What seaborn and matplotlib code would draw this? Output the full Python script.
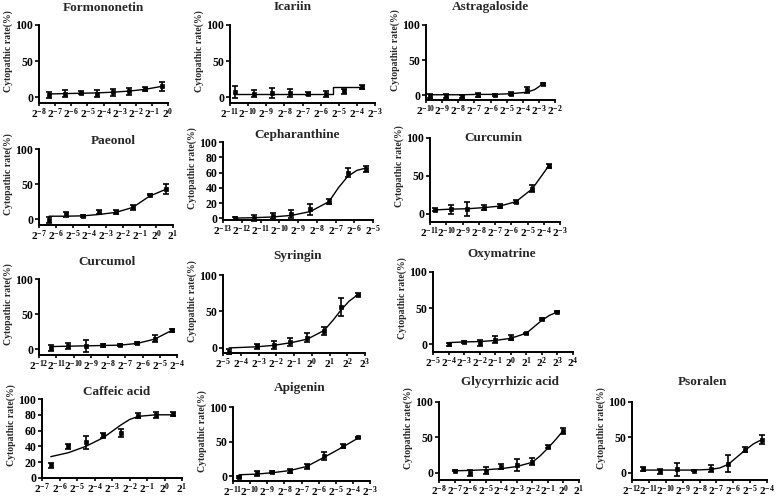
import numpy as np
import pandas as pd
import matplotlib
matplotlib.use("Agg")
import matplotlib.pyplot as plt
import seaborn as sns
from matplotlib.ticker import FixedLocator, FuncFormatter, NullLocator

# ---------------- data (log2 of concentration, cytopathic rate %) ----------------
formononetin_x = [-7.4, -6.4, -5.4, -4.4, -3.4, -2.4, -1.4, -0.4]
formononetin_y = [3, 5, 6, 5, 7, 8, 11, 15]
formononetin_err = [4, 5, 2, 5, 5, 5, 3, 6]
formononetin_fit_x = [-7.4, -6.4, -5.4, -4.4, -3.4, -2.4, -1.4, -0.4]
formononetin_fit_y = [4.5, 5, 5.5, 6, 7, 8.5, 11, 15]

icariin_x = [-10.7, -9.7, -8.7, -7.7, -6.7, -5.7, -4.7, -3.7]
icariin_y = [7, 5, 6, 6, 5, 4, 8, 14]
icariin_err = [8, 5, 7, 5, 2, 4, 3, 3]
icariin_fit_x = [-10.7, -5.3, -5.3, -3.7]
icariin_fit_y = [5, 5, 14, 14]

astragaloside_x = [-9.75, -8.75, -7.75, -6.75, -5.75, -4.75, -3.75, -2.75]
astragaloside_y = [-1, -1, -2, 0, 0, 2, 7, 16]
astragaloside_err = [3, 3, 2, 3, 1, 2, 4, 1]
astragaloside_fit_x = [-9.75, -8.75, -7.75, -6.75, -5.75, -4.75, -3.75, -3.25, -2.75]
astragaloside_fit_y = [0.5, 0.5, 0.5, 1, 1, 2, 4, 8, 16]

paeonol_x = [-6.4, -5.4, -4.4, -3.4, -2.4, -1.4, -0.4, 0.6]
paeonol_y = [-1, 7, 5, 10, 10, 17, 35, 43]
paeonol_err = [4, 3, 1, 3, 3, 3, 1, 7]
paeonol_fit_x = [-6.4, -5.4, -4.4, -3.4, -2.4, -1.4, -0.4, 0.6]
paeonol_fit_y = [4.5, 4.5, 5, 7, 10, 17, 33, 43]

cepharanthine_x = [-12.35, -11.35, -10.35, -9.35, -8.35, -7.35, -6.35, -5.35]
cepharanthine_y = [0, 1, 3, 6, 12, 22, 60, 65]
cepharanthine_err = [2, 4, 4, 5, 7, 3, 6, 4]
cepharanthine_fit_x = [-12.35, -11.35, -10.35, -9.35, -8.35, -7.35, -6.85, -6.35, -5.85, -5.35]
cepharanthine_fit_y = [0.5, 1, 2, 4, 9, 22, 40, 55, 63, 66]

curcumin_x = [-10.7, -9.7, -8.7, -7.7, -6.7, -5.7, -4.7, -3.7]
curcumin_y = [5, 6, 6, 8, 10, 16, 33, 63]
curcumin_err = [2, 6, 9, 3, 3, 2, 5, 3]
curcumin_fit_x = [-10.7, -9.7, -8.7, -7.7, -6.7, -5.7, -4.7, -3.7]
curcumin_fit_y = [5, 6, 6.5, 8, 10, 16, 33, 63]

curcumol_x = [-11.3, -10.3, -9.3, -8.3, -7.3, -6.3, -5.3, -4.3]
curcumol_y = [2, 5, 5, 6, 6, 9, 15, 27]
curcumol_err = [4, 4, 9, 2, 1, 2, 5, 2]
curcumol_fit_x = [-11.3, -10.3, -9.3, -8.3, -7.3, -6.3, -5.3, -4.3]
curcumol_fit_y = [4, 4.5, 5, 5.5, 6, 8.5, 14.5, 27]

syringin_x = [-4.65, -3.1, -2.15, -1.2, -0.25, 0.7, 1.65, 2.6]
syringin_y = [-5, 2, 4, 8, 14, 23, 56, 73]
syringin_err = [4, 4, 6, 5, 6, 5, 12, 2]
syringin_fit_x = [-4.65, -3.1, -2.15, -1.2, -0.25, 0.7, 1.2, 1.65, 2.1, 2.6]
syringin_fit_y = [0, 1.5, 3.5, 7, 12, 24, 38, 52, 64, 73]

oxymatrine_x = [-4, -3, -2, -1, 0, 1, 2, 3]
oxymatrine_y = [0, 3, 2, 6, 9, 15, 35, 45]
oxymatrine_err = [2, 1, 4, 5, 3, 1, 1, 1]
oxymatrine_fit_x = [-4, -3, -2, -1, 0, 1, 1.5, 2, 2.5, 3]
oxymatrine_fit_y = [2, 3, 3.5, 5, 8, 15, 24, 33, 40, 44.5]

caffeic_x = [-6.5, -5.5, -4.5, -3.5, -2.5, -1.5, -0.5, 0.5]
caffeic_y = [16, 40, 45, 54, 57, 79, 80, 81]
caffeic_err = [3, 3, 8, 3, 5, 3, 4, 2]
caffeic_fit_x = [-6.5, -5.5, -4.5, -3.5, -3.0, -2.5, -2.0, -1.5, -0.5, 0.5]
caffeic_fit_y = [27, 32, 40, 51, 59, 67, 74, 78, 80, 80]

apigenin_x = [-10.65, -9.6, -8.7, -7.7, -6.7, -5.7, -4.6, -3.7]
apigenin_y = [-1, 4, 6, 8, 14, 29, 44, 56]
apigenin_err = [1, 4, 2, 3, 4, 6, 3, 1]
apigenin_fit_x = [-10.65, -9.6, -8.7, -7.7, -6.7, -5.7, -4.6, -3.7]
apigenin_fit_y = [2, 3, 5, 8, 14, 27, 42, 55]

glycyrrhizic_x = [-7, -6, -5, -4, -3, -2, -1, 0]
glycyrrhizic_y = [3, 0, 3, 9, 11, 16, 37, 59]
glycyrrhizic_err = [1, 4, 5, 3, 8, 5, 2, 4]
glycyrrhizic_fit_x = [-7, -6, -5, -4, -3, -2, -1.5, -1, -0.5, 0]
glycyrrhizic_fit_y = [3, 3.5, 4.5, 6, 9, 15, 24, 35, 47, 60]

psoralen_x = [-11.35, -10.35, -9.35, -8.35, -7.3, -6.3, -5.3, -4.3]
psoralen_y = [5, 2, 5, 3, 6, 13, 33, 47]
psoralen_err = [3, 3, 9, 1, 5, 12, 4, 6]
psoralen_fit_x = [-11.35, -10.35, -9.35, -8.35, -7.3, -6.8, -6.3, -5.8, -5.3, -4.8, -4.3]
psoralen_fit_y = [4, 4, 4, 4, 5, 7, 12, 22, 32, 41, 47]

y_label = "Cytopathic rate(%)"

# ---------------- style ----------------
sns.set_style("ticks")
plt.rcParams['font.family'] = ['Liberation Serif', 'DejaVu Serif']
plt.rcParams['font.weight'] = 'bold'
plt.rcParams['mathtext.fontset'] = 'custom'
plt.rcParams['mathtext.rm'] = 'Liberation Serif:bold'
plt.rcParams['mathtext.bf'] = 'Liberation Serif:bold'
plt.rcParams['mathtext.it'] = 'Liberation Serif:bold'

W, H = 778, 499
fig = plt.figure(figsize=(W / 100, H / 100), dpi=100)


def panel(name, lx, y, err, fx, fy, xr, ymin, yticks, box, title_xy):
    x0, x1, ytop, ybot = box
    ax = fig.add_axes([x0 / W, 1 - ybot / H, (x1 - x0) / W, (ybot - ytop) / H])
    pts = pd.DataFrame({'conc': 2.0 ** np.array(lx, float), 'rate': y})
    fit = pd.DataFrame({'conc': 2.0 ** np.array(fx, float), 'rate': fy})
    sns.lineplot(data=fit, x='conc', y='rate', ax=ax, color='black', lw=1.0,
                 sort=False, estimator=None)
    ax.errorbar(pts['conc'], pts['rate'], yerr=err, fmt='none', ecolor='black',
                elinewidth=1.2, capsize=2.0, capthick=1.2, clip_on=False)
    sns.scatterplot(data=pts, x='conc', y='rate', ax=ax, marker='s', s=9,
                    color='black', edgecolor='black', linewidth=0.5, clip_on=False, zorder=5)
    ax.set_xscale('log', base=2)
    ax.set_xlim(2.0 ** xr[0], 2.0 ** xr[1])
    ax.set_ylim(ymin, 100)
    ax.xaxis.set_major_locator(FixedLocator([2.0 ** k for k in range(xr[0], xr[1] + 1)]))
    ax.xaxis.set_minor_locator(NullLocator())
    ax.xaxis.set_major_formatter(FuncFormatter(
        lambda v, p: r'$\mathbf{2^{%d}}$' % int(round(np.log2(v)))))
    ax.set_yticks(yticks)
    ax.set_yticklabels([str(t) for t in yticks])
    for s in ['top', 'right']:
        ax.spines[s].set_visible(False)
    for s in ['left', 'bottom']:
        ax.spines[s].set_linewidth(1.4)
        ax.spines[s].set_color('black')
    ax.tick_params(axis='both', direction='out', length=3, width=1.2, colors='black',
                   labelsize=8.5, pad=1)
    ax.tick_params(axis='x', labelsize=8, pad=0.3, length=2.5)
    ax.set_xlabel('')
    ax.set_ylabel(y_label, fontsize=7, fontweight='bold')
    ax.yaxis.set_label_coords(-26 / (x1 - x0), 0.67)
    fig.text(title_xy[0] / W, 1 - title_xy[1] / H, name, ha='center', va='center',
             fontsize=9.5, fontweight='bold')
    return ax


y3 = [0, 50, 100]
y6 = [0, 20, 40, 60, 80, 100]

panel('Formononetin', formononetin_x, formononetin_y, formononetin_err,
      formononetin_fit_x, formononetin_fit_y, (-8, 0), -8, y3, (39, 168, 25, 103), (103, 8))
panel('Icariin', icariin_x, icariin_y, icariin_err,
      icariin_fit_x, icariin_fit_y, (-11, -3), -8, y3, (230, 375, 25, 103), (293, 7))
panel('Astragaloside', astragaloside_x, astragaloside_y, astragaloside_err,
      astragaloside_fit_x, astragaloside_fit_y, (-10, -2), -7, y3, (426, 555, 25, 100), (490, 7))
panel('Paeonol', paeonol_x, paeonol_y, paeonol_err,
      paeonol_fit_x, paeonol_fit_y, (-7, 1), -8, y3, (39, 173, 149, 225), (113, 141))
panel('Cepharanthine', cepharanthine_x, cepharanthine_y, cepharanthine_err,
      cepharanthine_fit_x, cepharanthine_fit_y, (-13, -5), -2, y6, (223, 373, 142, 220), (297, 135))
panel('Curcumin', curcumin_x, curcumin_y, curcumin_err,
      curcumin_fit_x, curcumin_fit_y, (-11, -3), -11, y3, (430, 560, 138, 222), (493, 138))
panel('Curcumol', curcumol_x, curcumol_y, curcumol_err,
      curcumol_fit_x, curcumol_fit_y, (-12, -4), -8, y3, (39, 177, 279, 355), (107, 262))
panel('Syringin', syringin_x, syringin_y, syringin_err,
      syringin_fit_x, syringin_fit_y, (-5, 3), -7, y3, (223, 365, 275, 353), (298, 256))
panel('Oxymatrine', oxymatrine_x, oxymatrine_y, oxymatrine_err,
      oxymatrine_fit_x, oxymatrine_fit_y, (-5, 4), -11, y3, (433, 573, 272, 352), (502, 254))
panel('Caffeic acid', caffeic_x, caffeic_y, caffeic_err,
      caffeic_fit_x, caffeic_fit_y, (-7, 1), 0, y6, (42, 182, 399, 478), (117, 392))
panel('Apigenin', apigenin_x, apigenin_y, apigenin_err,
      apigenin_fit_x, apigenin_fit_y, (-11, -3), -7, y3, (233, 370, 407, 481), (300, 388))
panel('Glycyrrhizic acid', glycyrrhizic_x, glycyrrhizic_y, glycyrrhizic_err,
      glycyrrhizic_fit_x, glycyrrhizic_fit_y, (-8, 1), -10, y3, (439, 579, 402, 480), (510, 382))
panel('Psoralen', psoralen_x, psoralen_y, psoralen_err,
      psoralen_fit_x, psoralen_fit_y, (-12, -4), -10, y3, (632, 767, 402, 480), (702, 382))

fig.savefig('out.png', dpi=100, facecolor='white')
